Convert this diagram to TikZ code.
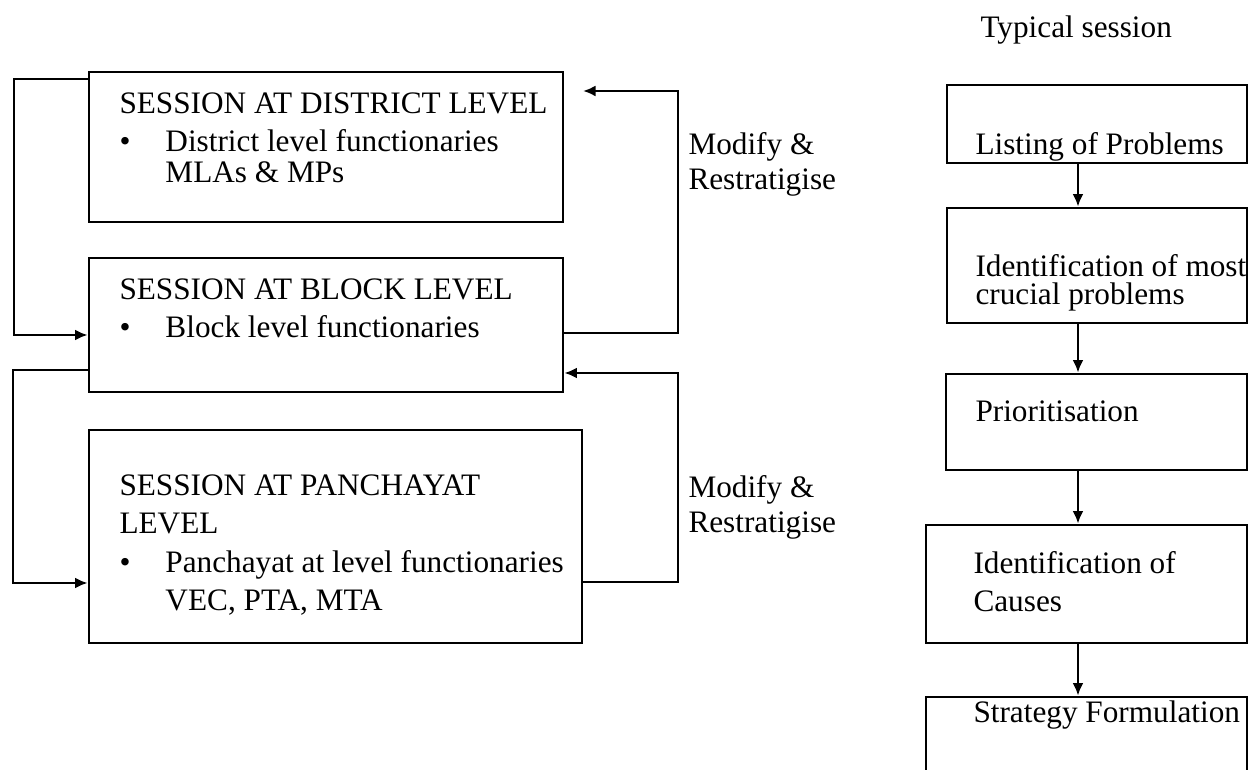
\documentclass[tikz,border=0pt]{standalone}
\usepackage{fontspec}
\setmainfont{Liberation Serif}
\usetikzlibrary{arrows.meta}

\begin{document}
\begin{tikzpicture}[
  x=0.4pt, y=-0.4pt,
  font=\fontsize{12.5}{15.4}\selectfont,
  >={Latex[length=5pt, width=4.4pt]},
  box/.style={draw, line width=1.1pt, inner sep=0pt},
  txt/.style={anchor=base west, inner sep=0pt, align=left},
  arr/.style={->, line width=1.1pt},
  ]
\clip (0,0) rectangle (1248,770);

% sessions at the three levels
\node[box, minimum width=189.6pt, minimum height=60pt] (district) at (326,147) {};
\node[box, minimum width=189.6pt, minimum height=53.6pt] (block) at (326,325) {};
\node[box, minimum width=197.2pt, minimum height=85.2pt] (panch) at (335.5,536.5) {};

% (multi-line texts hang from the baseline of their last line)
\node[txt] (districttxt) at (119,183) {SESSION AT DISTRICT LEVEL\\
  \makebox[18.4pt][l]{\textbullet}District level functionaries\\[-3pt]
  \hspace*{18.4pt}MLAs \& MPs};
\node[txt] (blocktxt) at (119,338) {SESSION AT BLOCK LEVEL\\
  \makebox[18.4pt][l]{\textbullet}Block level functionaries};
\node[txt] (panchtxt) at (119,611) {SESSION AT PANCHAYAT\\
  LEVEL\\
  \makebox[18.4pt][l]{\textbullet}Panchayat at level functionaries\\
  \hspace*{18.4pt}VEC, PTA, MTA};

\node[txt] (modify1) at (688,190) {Modify \&\\[-1.4pt] Restratigise};
\node[txt] (modify2) at (688,533) {Modify \&\\[-1.4pt] Restratigise};

% loops
\coordinate (lx1) at (14,0);
\coordinate (lx2) at (13,0);
\coordinate (rx) at (678,0);
\coordinate (dtip) at (583,91);
\draw[arr] (district.west |- 0,79) -| (lx1 |- 0,335) -- (block.west |- 0,335);
\draw[arr] (block.west |- 0,370) -| (lx2 |- 0,583) -- (panch.west |- 0,583);
\draw[arr] (block.east |- 0,333) -| (rx |- dtip) -- (dtip);
\draw[arr] (panch.east |- 0,582) -| (rx |- 0,373) -- (block.east |- 0,373);

% typical session
\node[txt] (title) at (980,38) {Typical session};
\node[box, minimum width=120pt, minimum height=31.2pt] (listing) at (1097,124) {};
\node[box, minimum width=120pt, minimum height=46pt] (crucial) at (1097,265.5) {};
\node[box, minimum width=120.4pt, minimum height=38.4pt] (prior) at (1096.5,422) {};
\node[box, minimum width=128.4pt, minimum height=47.2pt] (causes) at (1086.5,584) {};
\node[box, minimum width=128.4pt, minimum height=41.2pt] (strategy) at (1086.5,748.5) {};

\node[txt] (listingtxt) at (975,155) {Listing of Problems};
\node[txt] (crucialtxt) at (975,305) {Identification of most\\[-4pt] crucial problems};
\node[txt] (priortxt) at (975,422) {Prioritisation};
\node[txt] (causestxt) at (973,612) {Identification of\\ Causes};
\node[txt] (strategytxt) at (973,723) {Strategy Formulation};

\coordinate (ax) at (1078,0);
\draw[arr] (listing.south -| ax) -- (crucial.north -| ax);
\draw[arr] (crucial.south -| ax) -- (prior.north -| ax);
\draw[arr] (prior.south -| ax) -- (causes.north -| ax);
\draw[arr] (causes.south -| ax) -- (strategy.north -| ax);
\end{tikzpicture}
\end{document}
